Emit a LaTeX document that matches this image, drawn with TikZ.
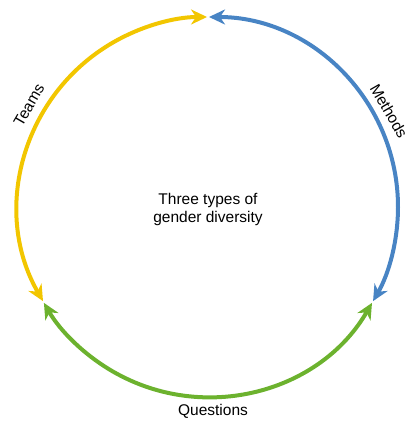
\documentclass[tikz,border=0pt]{standalone}
\usepackage{fontspec}
\setmainfont{Liberation Sans}
\usetikzlibrary{arrows.meta}
\definecolor{teamsyellow}{RGB}{242,198,0}
\definecolor{methodsblue}{RGB}{72,132,196}
\definecolor{questionsgreen}{RGB}{108,178,46}
\tikzstyle{cycarc}=[line width=4pt, >={Stealth[length=16pt, width=15pt, inset=5pt]}, <->, shorten <=1pt, shorten >=1pt]
\tikzstyle{arclabel}=[inner sep=0pt, font=\fontsize{15.5}{18}\selectfont]
\tikzstyle{hub}=[align=center, font=\fontsize{15.5}{18}\selectfont]

\begin{document}
\begin{tikzpicture}[x=1pt, y=1pt]
        \useasboundingbox (0, 0) rectangle (408, 421);
        \node[hub] (C) at (208, 212) {Three types of\\gender diversity};
        \coordinate (T) at (208, 404);
        \coordinate (L) at (43.5, 119);
        \coordinate (R) at (372.5, 119);
        \node[arclabel, rotate=60]  (teams)     at (29, 316) {Teams};
        \node[arclabel, rotate=-60] (methods)   at (389, 310) {Methods};
        \node[arclabel]             (questions) at (213, 10) {Questions};
        \draw[cycarc, teamsyellow]    (L) arc[start angle=210, end angle=90, radius=190pt];
        \draw[cycarc, methodsblue]    (T) arc[start angle=90, end angle=-30, radius=190pt];
        \draw[cycarc, questionsgreen] (R) arc[start angle=-30, end angle=-150, radius=190pt];
    \end{tikzpicture}
\end{document}
